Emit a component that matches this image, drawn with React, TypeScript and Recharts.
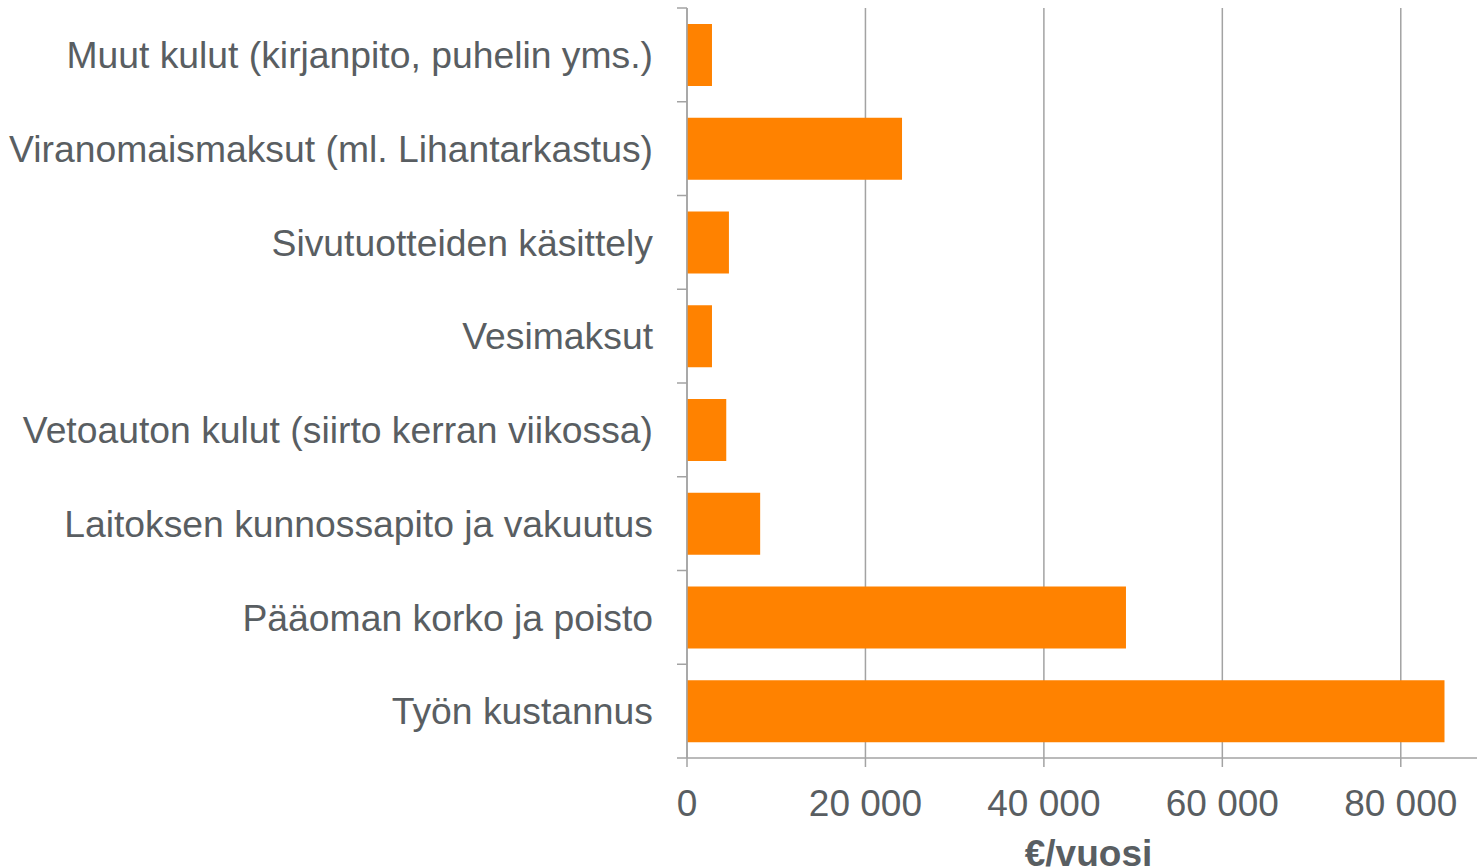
import { BarChart, Bar, XAxis, YAxis, CartesianGrid } from 'recharts'

const categories = [
    'Muut kulut (kirjanpito, puhelin yms.)',
    'Viranomaismaksut (ml. Lihantarkastus)',
    'Sivutuotteiden käsittely',
    'Vesimaksut',
    'Vetoauton kulut (siirto kerran viikossa)',
    'Laitoksen kunnossapito ja vakuutus',
    'Pääoman korko ja poisto',
    'Työn kustannus',
]
const costs = [2800, 24100, 4700, 2800, 4400, 8200, 49200, 84900]
const xTicks = [0, 20000, 40000, 60000, 80000]
const axisTitle = '€/vuosi'

const data = categories.map((name, i) => ({ name, value: costs[i] }))

const FONT = '"Liberation Sans", Arial, sans-serif'
const TEXT = '#595e62'
const LINE = '#a3a3a3'
const TOP = 8
const PLOT_H = 750
const BAND = PLOT_H / categories.length

const formatThousands = (v: number) => String(v).replace(/\B(?=(\d{3})+(?!\d))/g, ' ')

const CategoryTick = ({ x, y, payload, index }: any) => {
    const lx = x + 24
    return (
        <g>
            <line x1={lx} x2={lx + 10} y1={y - BAND / 2} y2={y - BAND / 2} stroke={LINE} strokeWidth={1.5} />
            {index === categories.length - 1 && (
                <line x1={lx} x2={lx + 10} y1={y + BAND / 2} y2={y + BAND / 2} stroke={LINE} strokeWidth={1.5} />
            )}
            <text x={x} y={y} dy="0.355em" textAnchor="end" fill={TEXT} fontSize={37.3} fontFamily={FONT}>
                {payload.value}
            </text>
        </g>
    )
}

export default function App() {
    return (
        <div style={{ position: 'absolute', left: 0, top: 0, width: 1477, height: 868, overflow: 'hidden', background: '#fff' }}>
            <BarChart
                width={1490}
                height={880}
                data={data}
                layout="vertical"
                margin={{ top: TOP, right: 0, bottom: 0, left: 0 }}
                barCategoryGap="17%"
            >
                <CartesianGrid horizontal={false} stroke={LINE} strokeWidth={1.5} />
                <XAxis
                    type="number"
                    domain={[0, 90000]}
                    ticks={xTicks}
                    height={122}
                    tickSize={9}
                    tickMargin={23}
                    tickFormatter={formatThousands}
                    axisLine={{ stroke: LINE, strokeWidth: 1.5 }}
                    tickLine={{ stroke: LINE, strokeWidth: 1.5 }}
                    tick={{ fill: TEXT, fontSize: 37, fontFamily: FONT }}
                    label={{
                        value: axisTitle,
                        position: 'insideBottom',
                        offset: 14,
                        fill: TEXT,
                        fontSize: 37,
                        fontWeight: 'bold',
                        fontFamily: FONT,
                    }}
                />
                <YAxis
                    type="category"
                    dataKey="name"
                    width={687}
                    tickSize={10}
                    tickMargin={24}
                    tickLine={false}
                    axisLine={{ stroke: LINE, strokeWidth: 1.5 }}
                    tick={<CategoryTick />}
                    interval={0}
                />
                <Bar dataKey="value" fill="#ff8200" isAnimationActive={false} />
            </BarChart>
        </div>
    )
}
